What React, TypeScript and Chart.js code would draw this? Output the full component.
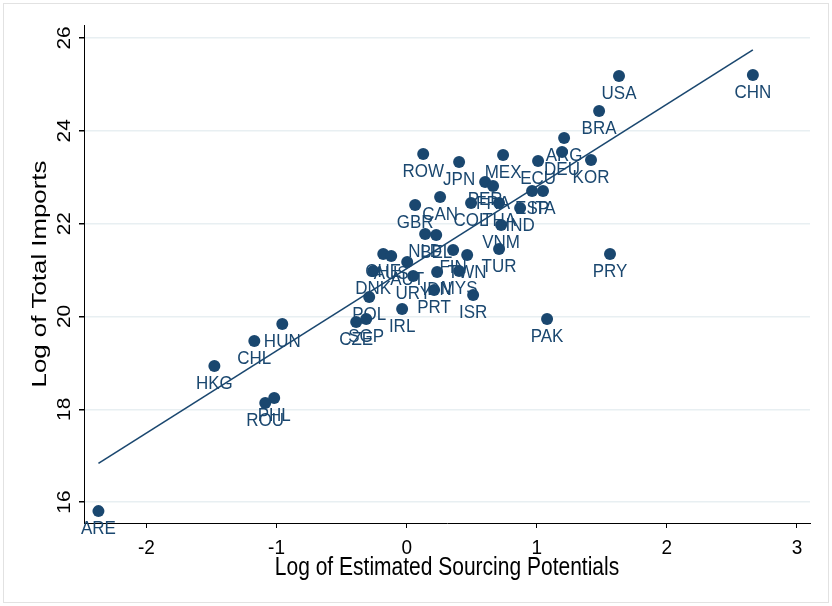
import React, { useEffect, useRef } from "react";
import { Chart, registerables } from "chart.js";

Chart.register(...registerables);

const countries = [
  "ARE", "HKG", "CHL", "HUN", "PHL", "ROU", "CZE", "SGP", "POL", "IRL",
  "DNK", "CHE", "AUS", "AUT", "URY", "NLD", "BEL", "FIN", "TWN", "IDN",
  "MYS", "PRT", "ISR", "TUR", "VNM", "COL", "THA", "IND", "GBR", "CAN",
  "ROW", "JPN", "MEX", "PER", "FRA", "ESP", "ITA", "ECU", "ARG", "DEU",
  "KOR", "BRA", "USA", "CHN", "PRY", "PAK",
];

const sourcingPotential = [
  -2.369, -1.478, -1.171, -0.956, -1.018, -1.087, -0.388, -0.311, -0.288, -0.035,
  -0.257, -0.18, -0.119, 0.004, 0.05, 0.142, 0.227, 0.357, 0.465, 0.234,
  0.403, 0.211, 0.511, 0.71, 0.726, 0.495, 0.71, 0.872, 0.065, 0.257,
  0.127, 0.403, 0.741, 0.603, 0.664, 0.964, 1.048, 1.01, 1.21, 1.194,
  1.417, 1.479, 1.632, 2.661, 1.563, 1.079,
];

const totalImports = [
  15.806, 18.931, 19.47, 19.836, 18.241, 18.134, 19.879, 19.944, 20.418, 20.159,
  20.978, 21.345, 21.302, 21.172, 20.871, 21.776, 21.754, 21.431, 21.323, 20.957,
  20.978, 20.569, 20.461, 21.453, 21.97, 22.444, 22.444, 22.336, 22.401, 22.573,
  23.5, 23.328, 23.478, 22.897, 22.81, 22.703, 22.703, 23.349, 23.845, 23.543,
  23.371, 24.427, 25.181, 25.203, 21.345, 19.944,
];

const fitX = [-2.369, 2.661];
const fitY = [16.835, 25.743];

const xTicks = [-2, -1, 0, 1, 2, 3];
const yTicks = [16, 18, 20, 22, 24, 26];

const xTitle = "Log of Estimated Sourcing Potentials";
const yTitle = "Log of Total Imports";

const NAVY = "#1a476f";
const FONT = '"Liberation Sans", Arial, Helvetica, sans-serif';

function drawText(
  ctx: CanvasRenderingContext2D,
  text: string,
  x: number,
  y: number,
  size: number,
  color: string,
  rotate: boolean,
  stretch: number
) {
  ctx.save();
  ctx.translate(x, y);
  if (rotate) {
    ctx.rotate(-Math.PI / 2);
    ctx.scale(stretch, 1);
  } else {
    ctx.scale(1, stretch);
  }
  ctx.font = `${size}px ${FONT}`;
  ctx.fillStyle = color;
  ctx.textAlign = "center";
  ctx.textBaseline = "middle";
  ctx.fillText(text, 0, 0);
  ctx.restore();
}

const decorPlugin = {
  id: "decor",
  beforeDraw(chart: any) {
    const ctx = chart.ctx as CanvasRenderingContext2D;
    ctx.save();
    ctx.fillStyle = "#ffffff";
    ctx.fillRect(0, 0, chart.width, chart.height);
    ctx.strokeStyle = "#e2e2e2";
    ctx.lineWidth = 1;
    ctx.strokeRect(3.5, 3.5, chart.width - 7, chart.height - 7);
    ctx.restore();
  },
  afterDatasetsDraw(chart: any) {
    const ctx = chart.ctx as CanvasRenderingContext2D;
    const meta = chart.getDatasetMeta(0);
    meta.data.forEach((el: any, i: number) => {
      drawText(ctx, countries[i], el.x, el.y + 18, 17, NAVY, false, 1.12);
    });
  },
  afterDraw(chart: any) {
    const ctx = chart.ctx as CanvasRenderingContext2D;
    const xs = chart.scales.x;
    const ys = chart.scales.y;
    const area = chart.chartArea;
    xTicks.forEach((v) => {
      drawText(ctx, String(v), xs.getPixelForValue(v), area.bottom + 25, 19, "#000", false, 1.1);
    });
    yTicks.forEach((v) => {
      drawText(ctx, String(v), area.left - 19, ys.getPixelForValue(v), 19, "#000", true, 1.1);
    });
    drawText(ctx, xTitle, (area.left + area.right) / 2, area.bottom + 45, 21, "#000", false, 1.2);
    drawText(ctx, yTitle, area.left - 44, (area.top + area.bottom) / 2, 21, "#000", true, 1.23);
  },
};

export default function App() {
  const ref = useRef<HTMLCanvasElement | null>(null);

  useEffect(() => {
    if (!ref.current) return;
    const chart = new Chart(ref.current, {
      type: "scatter",
      data: {
        datasets: [
          {
            type: "scatter",
            data: sourcingPotential.map((x, i) => ({ x, y: totalImports[i] })),
            backgroundColor: NAVY,
            borderWidth: 0,
            pointRadius: 6,
            order: 1,
          },
          {
            type: "line",
            data: fitX.map((x, i) => ({ x, y: fitY[i] })),
            borderColor: NAVY,
            borderWidth: 1.6,
            pointRadius: 0,
            fill: false,
            order: 0,
          } as any,
        ],
      },
      options: {
        animation: false,
        responsive: false,
        devicePixelRatio: 1,
        layout: { padding: { left: 0, right: 22, top: 25, bottom: 0 } },
        plugins: {
          legend: { display: false },
          tooltip: { enabled: false },
        },
        scales: {
          x: {
            type: "linear",
            min: -2.48,
            max: 3.1,
            afterBuildTicks: (scale: any) => {
              scale.ticks = xTicks.map((v) => ({ value: v }));
            },
            afterFit: (scale: any) => {
              scale.height = 83;
            },
            ticks: { display: false },
            grid: {
              drawOnChartArea: false,
              drawTicks: true,
              tickLength: 5,
              color: "#000",
              tickColor: "#000",
            },
            border: { color: "#000", width: 1 },
          },
          y: {
            type: "linear",
            min: 15.55,
            max: 26.28,
            afterBuildTicks: (scale: any) => {
              scale.ticks = yTicks.map((v) => ({ value: v }));
            },
            afterFit: (scale: any) => {
              scale.width = 84;
            },
            ticks: { display: false },
            grid: {
              color: "#e8eff2",
              lineWidth: 1.5,
              drawTicks: true,
              tickLength: 5,
              tickColor: "#000",
            },
            border: { color: "#000", width: 1 },
          },
        },
      },
      plugins: [decorPlugin],
    });
    return () => chart.destroy();
  }, []);

  return (
    <div style={{ position: "absolute", left: 0, top: 0, width: 832, height: 606 }}>
      <canvas ref={ref} width={832} height={606} />
    </div>
  );
}
